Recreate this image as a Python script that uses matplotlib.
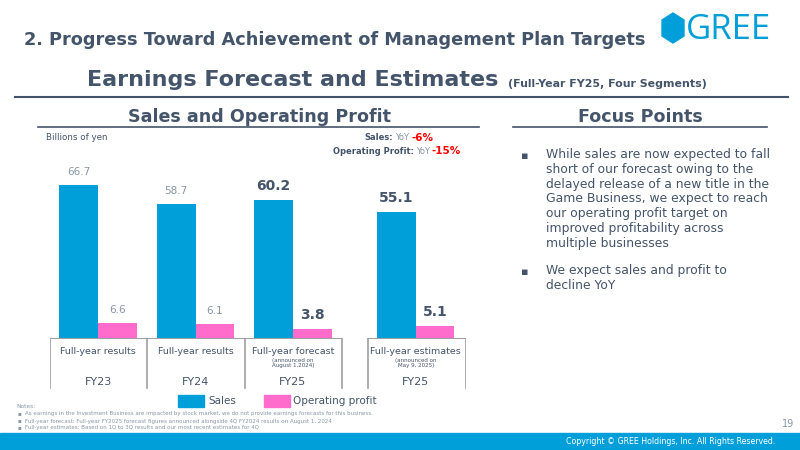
import matplotlib
matplotlib.use("Agg")
import matplotlib.pyplot as plt
from matplotlib.patches import Rectangle, Polygon

# data
groups = ["FY23", "FY24", "FY25", "FY25"]
kinds = ["Full-year results", "Full-year results", "Full-year forecast", "Full-year estimates"]
notes_under = ["", "", "(announced on\nAugust 1,2024)", "(announced on\nMay 9, 2025)"]
sales = [66.7, 58.7, 60.2, 55.1]
op_profit = [6.6, 6.1, 3.8, 5.1]
xpos = [0, 1.0, 2.0, 3.26]

BLUE = "#009fda"
PINK = "#ff6ccc"
DARK = "#44546a"
GRAY = "#8896a6"

W, H = 800, 450
fig = plt.figure(figsize=(8, 4.5), dpi=100)
plt.rcParams['font.family'] = ['DejaVu Sans']


def fx(x):
    return x / W


def fy(y):
    return 1 - y / H


def txt(x, y, s, **kw):
    fig.text(fx(x), fy(y), s, **kw)


def hline(x0, x1, y, color=DARK, lw=1.2):
    fig.add_artist(plt.Line2D([fx(x0), fx(x1)], [fy(y), fy(y)], color=color, lw=lw,
                              transform=fig.transFigure))


# header
txt(24, 40, "2. Progress Toward Achievement of Management Plan Targets", fontsize=12.8,
    fontweight='bold', color=DARK, va='center')
hexagon = Polygon([(fx(673), fy(13)), (fx(684), fy(20)), (fx(684), fy(36)), (fx(673), fy(43)),
                   (fx(662), fy(36)), (fx(662), fy(20))], closed=True, color=BLUE,
                  transform=fig.transFigure)
fig.add_artist(hexagon)
txt(686, 30, "GREE", fontsize=25, color=BLUE, va='center', family='Open Sans')

txt(87, 80, "Earnings Forecast and Estimates", fontsize=16, fontweight='bold', color=DARK,
    va='center')
txt(508, 84, "(Full-Year FY25, Four Segments)", fontsize=7.9, fontweight='bold', color=DARK,
    va='center')
hline(15, 788, 97, lw=1.5)

txt(259, 117, "Sales and Operating Profit", fontsize=12.6, fontweight='bold', color=DARK,
    va='center', ha='center')
hline(38, 479, 127)
txt(640, 117, "Focus Points", fontsize=12.6, fontweight='bold', color=DARK,
    va='center', ha='center')
hline(513, 767, 127)

txt(46, 138, "Billions of yen", fontsize=6.3, color=DARK, va='center')

# YoY text
txt(433, 138, "-6%", fontsize=7.5, fontweight='bold', color='#ff0000', ha='right', va='center')
txt(409, 138, "YoY", fontsize=6, color=GRAY, ha='right', va='center')
txt(393, 138, "Sales:", fontsize=6, fontweight='bold', color=DARK, ha='right', va='center')
txt(461, 151, "-15%", fontsize=7.5, fontweight='bold', color='#ff0000', ha='right', va='center')
txt(430, 151, "YoY", fontsize=6, color=GRAY, ha='right', va='center')
txt(414, 151, "Operating Profit:", fontsize=6, fontweight='bold', color=DARK, ha='right', va='center')

# chart axes
x_left, x_right = 50, 466
y_top, y_base = 130, 338
ax = fig.add_axes([fx(x_left), fy(y_base), fx(x_right - x_left), (y_base - y_top) / H])
unit = 97.5
ax.set_xlim((x_left - 98) / unit, (x_right - 98) / unit)
ax.set_ylim(0, (y_base - y_top) / 2.29)
ax.axis('off')
bw = 0.395
sx = [p - bw / 2 for p in xpos]
ox = [p + bw / 2 for p in xpos]
ax.bar(sx, sales, width=bw, color=BLUE)
ax.bar(ox, op_profit, width=bw, color=PINK)
for i in range(len(xpos)):
    if i < 2:
        kw = dict(fontsize=7.5, color=GRAY)
        off = 3.5
    else:
        kw = dict(fontsize=10, color=DARK, fontweight='bold')
        off = 3.0
    ax.text(sx[i], sales[i] + off, f"{sales[i]:.1f}", ha='center', va='bottom', **kw)
    ax.text(ox[i], op_profit[i] + off, f"{op_profit[i]:.1f}", ha='center', va='bottom', **kw)

# table under the chart
tb = fig.add_axes([fx(x_left), fy(390), fx(x_right - x_left), (390 - y_base) / H])
tb.set_xlim(ax.get_xlim())
tb.set_ylim(0, 52)
tb.axis('off')
edges = [(x_left - 98) / unit, (147 - 98) / unit, (245 - 98) / unit, (342 - 98) / unit]
est_edges = [(368 - 98) / unit, (466 - 98) / unit]
bc = "#a0a0a0"
tb.plot([edges[0], edges[-1]], [52, 52], color=bc, lw=1.5)
tb.plot(est_edges, [52, 52], color=bc, lw=1.5)
for e in edges + est_edges:
    tb.plot([e, e], [52, 2], color=bc, lw=1.2)
for i in range(len(xpos)):
    tb.text(xpos[i], 39, kinds[i], ha='center', va='center', fontsize=6.8, color=DARK)
    if notes_under[i]:
        tb.text(xpos[i], 27, notes_under[i], ha='center', va='center', fontsize=4,
                color=DARK, linespacing=1.2)
    tb.text(xpos[i], 8, groups[i], ha='center', va='center', fontsize=8, color=DARK)

# legend
fig.add_artist(Rectangle((fx(178), fy(407)), fx(26), 12 / H, color=BLUE, transform=fig.transFigure))
txt(208, 401, "Sales", fontsize=7.5, color=DARK, va='center')
fig.add_artist(Rectangle((fx(264), fy(407)), fx(26), 12 / H, color=PINK, transform=fig.transFigure))
txt(293, 401, "Operating profit", fontsize=7.5, color=DARK, va='center')

# notes
txt(16, 407, "Notes:", fontsize=4.2, color=GRAY, va='center')
note_lines = [
    "As earnings in the Investment Business are impacted by stock market, we do not provide earnings forecasts for this business.",
    "Full-year forecast: Full-year FY2025 forecast figures announced alongside 4Q FY2024 results on August 1, 2024",
    "Full-year estimates: Based on 1Q to 3Q results and our most recent estimates for 4Q",
]
for k, s in enumerate(note_lines):
    txt(17, 414 + 7 * k, "\u25aa", fontsize=4, color=GRAY, va='center')
    txt(25, 414 + 7 * k, s, fontsize=4.0, color=GRAY, va='center')

# focus points
bullet1 = ("While sales are now expected to fall\nshort of our forecast owing to the\n"
           "delayed release of a new title in the\nGame Business, we expect to reach\n"
           "our operating profit target on\nimproved profitability across\nmultiple businesses")
bullet2 = "We expect sales and profit to\ndecline YoY"
txt(521, 156, "\u25aa", fontsize=8, color=DARK, va='center')
txt(546, 148, bullet1, fontsize=8.9, color=DARK, va='top', linespacing=1.18)
txt(521, 272, "\u25aa", fontsize=8, color=DARK, va='center')
txt(546, 264, bullet2, fontsize=8.9, color=DARK, va='top', linespacing=1.18)

# footer
txt(794, 424, "19", fontsize=7, color=GRAY, ha='right', va='center')
fig.add_artist(Rectangle((0, 0), 1, 17 / H, color=BLUE, transform=fig.transFigure))
txt(775, 441, "Copyright \u00a9 GREE Holdings, Inc. All Rights Reserved.", fontsize=5.7,
    color='white', ha='right', va='center')

fig.savefig("out.png", dpi=100)
